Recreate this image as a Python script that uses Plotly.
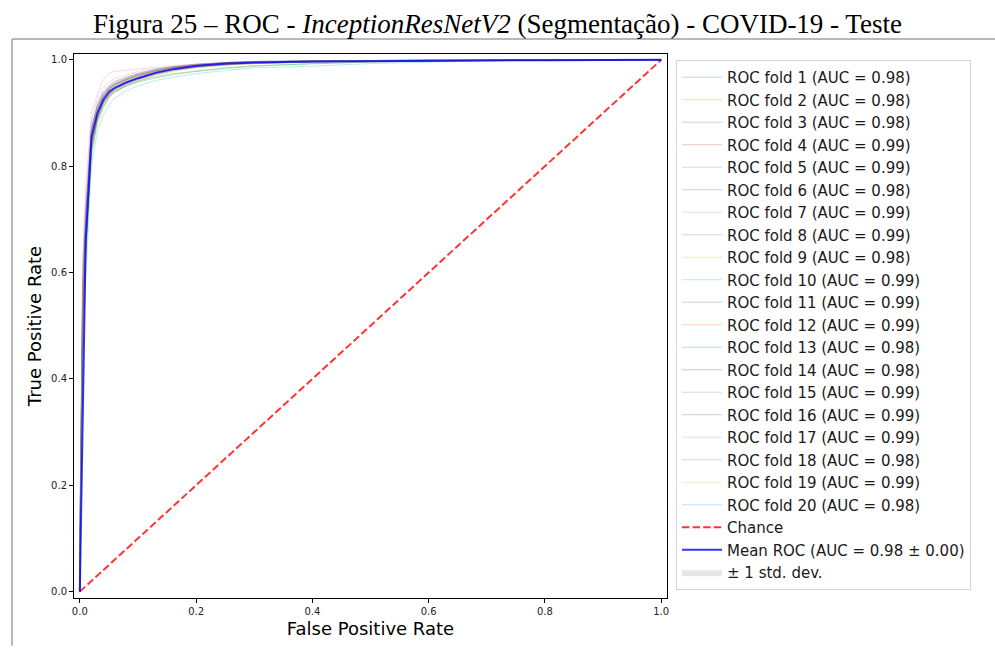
import plotly.graph_objects as go

# ---- data ----
FOLD_FPR = [0, 0, 0.005, 0.01, 0.02, 0.03, 0.04, 0.05, 0.06, 0.08, 0.10, 0.13, 0.16, 0.20, 0.25, 0.30, 0.40, 0.50, 0.70, 1.0]

FOLD_TPR = [
    [0, 0.05, 0.50, 0.64, 0.83, 0.89, 0.92, 0.935, 0.945, 0.956, 0.964, 0.974, 0.981, 0.987, 0.991, 0.994, 0.996, 0.998, 0.999, 1.0],
    [0, 0.06, 0.53, 0.66, 0.84, 0.895, 0.92, 0.936, 0.946, 0.957, 0.965, 0.975, 0.982, 0.988, 0.992, 0.994, 0.997, 0.998, 0.999, 1.0],
    [0, 0.04, 0.47, 0.62, 0.82, 0.88, 0.91, 0.928, 0.94, 0.952, 0.96, 0.968, 0.974, 0.979, 0.985, 0.989, 0.993, 0.996, 0.999, 1.0],
    [0, 0.08, 0.57, 0.70, 0.87, 0.91, 0.935, 0.948, 0.955, 0.965, 0.972, 0.98, 0.986, 0.991, 0.994, 0.996, 0.998, 0.999, 1.0, 1.0],
    [0, 0.07, 0.56, 0.69, 0.865, 0.905, 0.93, 0.945, 0.953, 0.962, 0.97, 0.979, 0.985, 0.99, 0.994, 0.996, 0.998, 0.999, 1.0, 1.0],
    [0, 0.05, 0.51, 0.65, 0.84, 0.89, 0.918, 0.934, 0.944, 0.955, 0.963, 0.973, 0.98, 0.986, 0.99, 0.993, 0.996, 0.998, 0.999, 1.0],
    [0, 0.10, 0.63, 0.76, 0.90, 0.935, 0.962, 0.975, 0.978, 0.981, 0.983, 0.986, 0.989, 0.992, 0.995, 0.997, 0.998, 0.999, 1.0, 1.0],
    [0, 0.08, 0.58, 0.71, 0.87, 0.915, 0.94, 0.952, 0.96, 0.968, 0.975, 0.982, 0.987, 0.991, 0.995, 0.997, 0.998, 0.999, 1.0, 1.0],
    [0, 0.04, 0.48, 0.63, 0.83, 0.885, 0.915, 0.932, 0.943, 0.955, 0.963, 0.972, 0.979, 0.985, 0.99, 0.993, 0.996, 0.998, 0.999, 1.0],
    [0, 0.07, 0.56, 0.69, 0.86, 0.905, 0.93, 0.945, 0.954, 0.963, 0.971, 0.98, 0.986, 0.991, 0.994, 0.996, 0.998, 0.999, 1.0, 1.0],
    [0, 0.09, 0.59, 0.72, 0.875, 0.915, 0.938, 0.95, 0.958, 0.967, 0.974, 0.982, 0.987, 0.991, 0.995, 0.997, 0.998, 0.999, 1.0, 1.0],
    [0, 0.06, 0.55, 0.68, 0.86, 0.90, 0.928, 0.943, 0.952, 0.962, 0.97, 0.978, 0.985, 0.99, 0.994, 0.996, 0.998, 0.999, 1.0, 1.0],
    [0, 0.04, 0.49, 0.63, 0.83, 0.885, 0.912, 0.93, 0.94, 0.951, 0.958, 0.966, 0.972, 0.978, 0.984, 0.988, 0.993, 0.996, 0.999, 1.0],
    [0, 0.05, 0.52, 0.65, 0.845, 0.893, 0.92, 0.936, 0.946, 0.957, 0.965, 0.975, 0.982, 0.988, 0.992, 0.995, 0.997, 0.998, 0.999, 1.0],
    [0, 0.08, 0.57, 0.70, 0.868, 0.91, 0.933, 0.947, 0.955, 0.964, 0.972, 0.98, 0.986, 0.991, 0.995, 0.997, 0.998, 0.999, 1.0, 1.0],
    [0, 0.07, 0.55, 0.68, 0.862, 0.904, 0.93, 0.944, 0.953, 0.963, 0.971, 0.979, 0.985, 0.99, 0.994, 0.996, 0.998, 0.999, 1.0, 1.0],
    [0, 0.09, 0.61, 0.74, 0.885, 0.925, 0.948, 0.958, 0.965, 0.972, 0.978, 0.984, 0.988, 0.992, 0.995, 0.997, 0.998, 0.999, 1.0, 1.0],
    [0, 0.05, 0.51, 0.645, 0.84, 0.89, 0.918, 0.934, 0.945, 0.956, 0.964, 0.974, 0.981, 0.987, 0.991, 0.994, 0.996, 0.998, 0.999, 1.0],
    [0, 0.07, 0.56, 0.69, 0.864, 0.906, 0.93, 0.945, 0.954, 0.964, 0.972, 0.98, 0.986, 0.991, 0.994, 0.996, 0.998, 0.999, 1.0, 1.0],
    [0, 0.03, 0.44, 0.58, 0.80, 0.865, 0.895, 0.915, 0.928, 0.942, 0.951, 0.961, 0.967, 0.974, 0.98, 0.985, 0.988, 0.993, 0.998, 1.0],
]

FOLD_AUC = [0.98, 0.98, 0.98, 0.99, 0.99, 0.98, 0.99, 0.99, 0.98, 0.99,
            0.99, 0.99, 0.98, 0.98, 0.99, 0.99, 0.99, 0.98, 0.99, 0.98]

MEAN_FPR = [0, 0.0101, 0.0202, 0.0303, 0.0404, 0.0505, 0.0606, 0.0808, 0.101, 0.131, 0.162,
            0.202, 0.253, 0.303, 0.404, 0.505, 0.606, 0.707, 0.808, 0.909, 1.0]
MEAN_TPR = [0, 0.66, 0.855, 0.90, 0.925, 0.94, 0.948, 0.958, 0.966, 0.976, 0.983,
            0.989, 0.993, 0.995, 0.997, 0.998, 0.9985, 0.999, 0.9993, 0.9997, 1.0]
STD_UPPER = [0, 0.72, 0.88, 0.915, 0.937, 0.95, 0.957, 0.966, 0.973, 0.982, 0.988,
             0.993, 0.996, 0.998, 0.999, 1.0, 1.0, 1.0, 1.0, 1.0, 1.0]
STD_LOWER = [0, 0.60, 0.83, 0.885, 0.913, 0.93, 0.939, 0.95, 0.959, 0.97, 0.978,
             0.985, 0.99, 0.992, 0.995, 0.996, 0.997, 0.998, 0.9986, 0.9994, 1.0]
MEAN_AUC_LABEL = "Mean ROC (AUC = 0.98 ± 0.00)"

CHANCE_X = [0, 1]
CHANCE_Y = [0, 1]

TICKS = [0.0, 0.2, 0.4, 0.6, 0.8, 1.0]

TAB10 = ["31,119,180", "255,127,14", "44,160,44", "214,39,40", "148,103,189",
         "140,86,75", "227,119,194", "127,127,127", "188,189,34", "23,190,207"]

fig = go.Figure()

# std band as a closed polygon (upper bound forward, lower bound backward)
band_x = MEAN_FPR + MEAN_FPR[::-1]
band_y = STD_UPPER + STD_LOWER[::-1]
fig.add_trace(go.Scatter(x=band_x, y=band_y, mode="lines", line=dict(width=0, color="rgba(128,128,128,0)"),
                         fill="toself", fillcolor="rgba(128,128,128,0.2)",
                         name="± 1 std. dev.", legendrank=23, hoverinfo="skip"))

for i, (tpr, auc) in enumerate(zip(FOLD_TPR, FOLD_AUC)):
    c = TAB10[i % 10]
    fig.add_trace(go.Scatter(x=FOLD_FPR, y=tpr, mode="lines",
                             line=dict(width=1, color=f"rgba({c},0.3)"),
                             name=f"ROC fold {i+1} (AUC = {auc:.2f})", legendrank=i + 1))

fig.add_trace(go.Scatter(x=CHANCE_X, y=CHANCE_Y, mode="lines",
                         line=dict(width=2, color="rgba(255,0,0,0.8)", dash="7.4px,3.2px"),
                         name="Chance", legendrank=21))
fig.add_trace(go.Scatter(x=MEAN_FPR, y=MEAN_TPR, mode="lines",
                         line=dict(width=2, color="rgba(0,0,255,0.8)"),
                         name=MEAN_AUC_LABEL, legendrank=22))

L, R, T, B = 74, 328, 54, 48
W, H = 995, 648
pw, ph = W - L - R, H - T - B

def px_x(px):
    return (px - L) / pw

def px_y(py):
    return (H - B - py) / ph

axis_common = dict(range=[-0.01, 1.01], tickvals=TICKS, ticktext=[f"{t:.1f}" for t in TICKS],
                   showline=True, linecolor="black", linewidth=1, mirror=True,
                   ticks="outside", ticklen=4, tickcolor="black", showgrid=False, zeroline=False,
                   tickfont=dict(family="DejaVu Sans", size=10, color="#222"))

fig.update_layout(
    width=W, height=H,
    margin=dict(l=L, r=R, t=T, b=B),
    paper_bgcolor="white", plot_bgcolor="white",
    title=dict(text="Figura 25 – ROC - <i>InceptionResNetV2</i> (Segmentação) - COVID-19 - Teste",
               x=0.5, xanchor="center", y=1 - 24 / H, yanchor="middle",
               font=dict(family="Liberation Serif", size=27, color="black")),
    xaxis=dict(**axis_common, title=dict(text="False Positive Rate", standoff=6,
                                         font=dict(family="DejaVu Sans", size=18, color="black"))),
    yaxis=dict(**{**axis_common, "range": [-0.012, 1.011]},
               title=dict(text="True Positive Rate", standoff=4,
                          font=dict(family="DejaVu Sans", size=18, color="black"))),
    legend=dict(x=px_x(676), y=px_y(60), xanchor="left", yanchor="top",
                font=dict(family="DejaVu Sans", size=15, color="#1a1a1a"),
                bordercolor="#d4d4d4", borderwidth=1, bgcolor="white",
                traceorder="normal", itemwidth=40),
    shapes=[
        dict(type="line", xref="paper", yref="paper", x0=px_x(12), x1=px_x(995), y0=px_y(39), y1=px_y(39),
             line=dict(color="#a0a0a0", width=1.5)),
        dict(type="line", xref="paper", yref="paper", x0=px_x(12), x1=px_x(12), y0=px_y(39), y1=px_y(648),
             line=dict(color="#a0a0a0", width=1.5)),
    ],
    showlegend=True,
)

fig.write_html("out.html")
